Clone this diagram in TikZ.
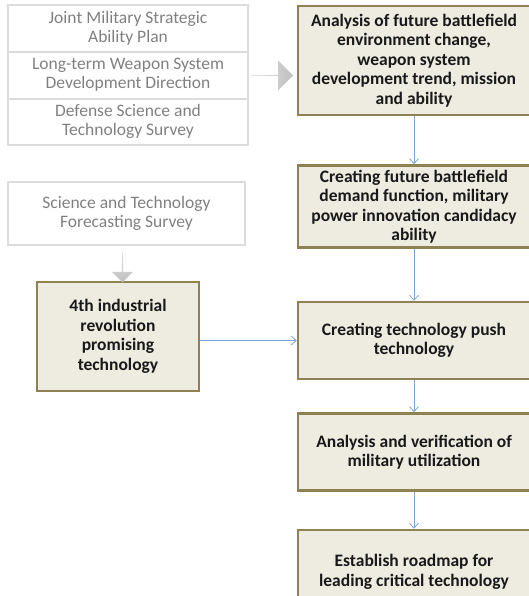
\documentclass[tikz,border=0pt]{standalone}
\usepackage{fontspec}
\setmainfont{Carlito}
\usetikzlibrary{arrows.meta, positioning, shapes.arrows}
\definecolor{Step-fill}{HTML}{EEEBE1}
\definecolor{Step-edge}{HTML}{8E8152}
\definecolor{Src-edge}{HTML}{DCDCDC}
\definecolor{Src-text}{HTML}{808080}
\definecolor{Flow-blue}{HTML}{7EA3D2}
\tikzset{
  stepbox/.style={fill=Step-fill, draw=Step-edge, line width=2.5pt, align=center,
    font=\bfseries\fontsize{17.5}{19.5}\selectfont, text=black!90},
  srcbox/.style={draw=Src-edge, line width=2pt, align=center, outer sep=0pt,
    text=Src-text, font=\fontsize{17.5}{19}\selectfont, minimum width=240pt},
  bigarrow/.style={single arrow, draw=none, inner sep=0pt, single arrow head extend=8pt,
    left color=black!10, right color=black!25},
  flow/.style={draw=Flow-blue, line width=0.8pt, -{Straight Barb[length=5pt,width=9pt]}}
}

\begin{document}
\begin{tikzpicture}[x=1pt, y=-1pt]
  \useasboundingbox (0,0) rectangle (528,596);
  % sources on the left
  \node[srcbox, minimum height=46.7pt] (JMS) at (128,28.5) {Joint Military Strategic\\Ability Plan};
  \node[srcbox, minimum height=46.7pt, below=0pt of JMS] (LWS) {Long-term Weapon System\\Development Direction};
  \node[srcbox, minimum height=46.7pt, below=0pt of LWS] (DST) {Defense Science and\\Technology Survey};
  \node[srcbox, minimum width=237pt, minimum height=63pt] (STF) at (126.5,213.5) {Science and Technology\\Forecasting Survey};

  % main steps
  \node[stepbox, minimum width=232pt, minimum height=109pt] (Anal) at (414,60.5)
    {Analysis of future battlefield\\environment change,\\weapon system\\development trend, mission\\and ability};
  \node[stepbox, minimum width=232pt, minimum height=82pt, below=48pt of Anal] (Demand)
    {Creating future battlefield\\demand function, military\\power innovation candidacy\\ability};
  \node[stepbox, minimum width=232pt, minimum height=77pt, below=52pt of Demand] (Push)
    {Creating technology push\\technology};
  \node[stepbox, minimum width=232pt, minimum height=77pt, below=32pt of Push] (Verify)
    {Analysis and verification of\\military utilization};
  \node[stepbox, minimum width=232pt, minimum height=84pt, below=37pt of Verify] (Road)
    {Establish roadmap for\\leading critical technology};
  \node[stepbox, minimum width=162pt, minimum height=109pt] (Ind4) at (118,336.5)
    {4th industrial\\revolution\\promising\\technology};

  % grey block arrows
  \node[bigarrow, minimum height=42pt, minimum width=30pt] (ToAnal) at (272,75.5) {};
  \node[bigarrow, shape border rotate=270, single arrow head extend=3.5pt,
    minimum height=30pt, minimum width=21pt, top color=black!12, bottom color=black!25] (ToInd4) at (122.5,267) {};

  \draw[flow] (Anal) -- (Demand);
  \draw[flow] (Demand) -- (Push);
  \draw[flow] (Push) -- (Verify);
  \draw[flow] (Verify) -- (Road);
  \draw[flow] (Ind4.east |- Push.west) -- (Push.west);
\end{tikzpicture}
\end{document}
